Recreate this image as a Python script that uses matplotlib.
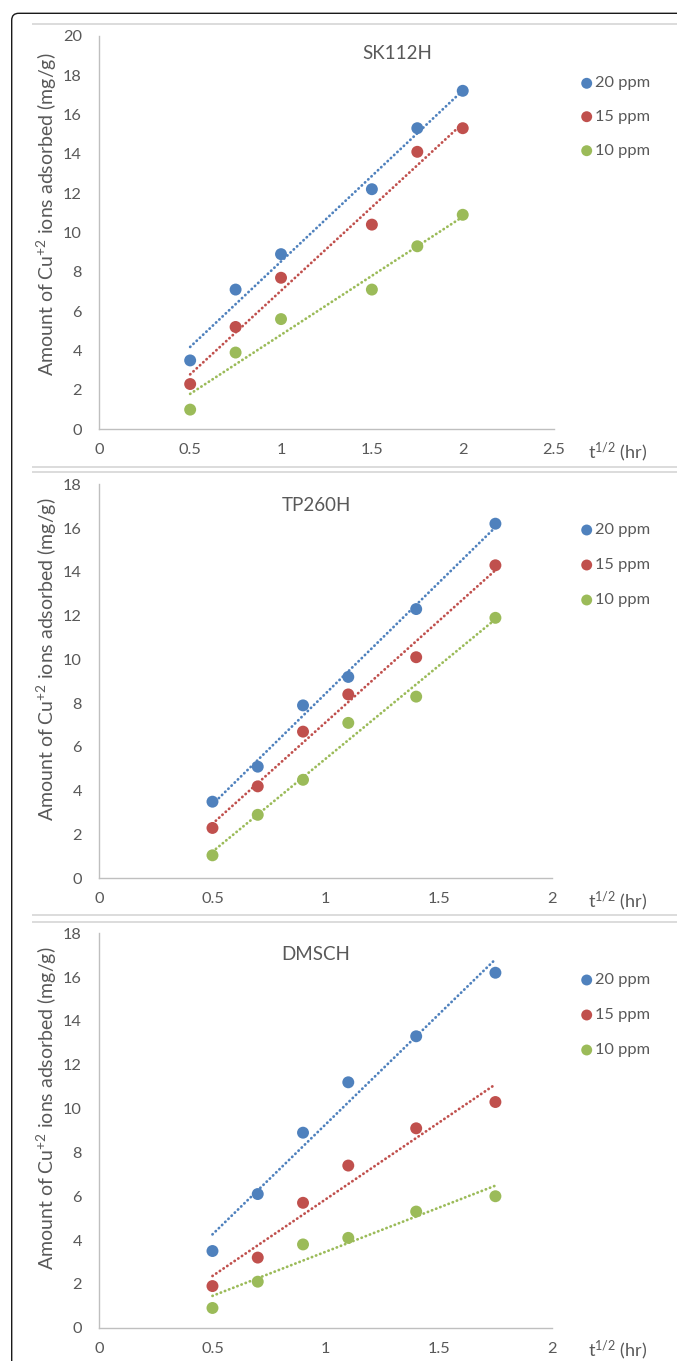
import matplotlib
matplotlib.use("Agg")
import matplotlib.pyplot as plt
import numpy as np
from matplotlib.patches import FancyBboxPatch

plt.rcParams['font.family'] = ['Lato', 'DejaVu Sans']
plt.rcParams['mathtext.fontset'] = 'custom'
plt.rcParams['mathtext.rm'] = 'Lato'
plt.rcParams['mathtext.it'] = 'Lato:italic'

# ---------------- data ----------------
series_labels = ["20 ppm", "15 ppm", "10 ppm"]
series_colors = ["#4F81BD", "#C0504D", "#9BBB59"]

sk_x = [0.5, 0.75, 1.0, 1.5, 1.75, 2.0]
sk_20 = [3.5, 7.1, 8.9, 12.2, 15.3, 17.2]
sk_15 = [2.3, 5.2, 7.7, 10.4, 14.1, 15.3]
sk_10 = [1.0, 3.9, 5.6, 7.1, 9.3, 10.9]

tp_x = [0.5, 0.7, 0.9, 1.1, 1.4, 1.75]
tp_20 = [3.5, 5.1, 7.9, 9.2, 12.3, 16.2]
tp_15 = [2.3, 4.2, 6.7, 8.4, 10.1, 14.3]
tp_10 = [1.05, 2.9, 4.5, 7.1, 8.3, 11.9]

dm_x = [0.5, 0.7, 0.9, 1.1, 1.4, 1.75]
dm_20 = [3.5, 6.1, 8.9, 11.2, 13.3, 16.2]
dm_15 = [1.9, 3.2, 5.7, 7.4, 9.1, 10.3]
dm_10 = [0.9, 2.1, 3.8, 4.1, 5.3, 6.0]

titles = ["SK112H", "TP260H", "DMSCH"]
x_maxes = [2.5, 2.0, 2.0]
y_maxes = [20, 18, 18]

ylabel_text = r"Amount of Cu$^{\mathregular{+2}}$ ions adsorbed (mg/g)"
xlabel_text = r"t$^{\mathregular{1/2}}$ (hr)"

# ---------------- layout (pixels) ----------------
W, H = 677, 1361
fig = plt.figure(figsize=(W / 100, H / 100), dpi=100)

bg = fig.add_axes([0, 0, 1, 1], zorder=0)
bg.set_xlim(0, W)
bg.set_ylim(H, 0)
bg.axis('off')

# outer rounded black frame
bg.add_patch(FancyBboxPatch((11.7, 13.3), 900, 1600,
                            boxstyle="round,pad=0,rounding_size=7",
                            fill=False, ec="#1a1a1a", lw=1.0))
# light grey chart borders
grey = "#d9d9d9"
for yy in [24.3, 467.0, 472.3, 915.0, 921.7]:
    bg.plot([32, W + 5], [yy, yy], color=grey, lw=1.3, solid_capstyle='butt')

panels = [
    dict(box=(99.3, 553.6, 35.7, 429.3), x=sk_x, ys=[sk_20, sk_15, sk_10],
         title_px=(397, 53.7), leg_y=[83.3, 116.7, 150.7], ylab_y=214, xlab_y=452),
    dict(box=(99.3, 552.0, 484.3, 878.3), x=tp_x, ys=[tp_20, tp_15, tp_10],
         title_px=(316.7, 505), leg_y=[530, 565, 600], ylab_y=659, xlab_y=901),
    dict(box=(99.3, 552.0, 933.3, 1327.7), x=dm_x, ys=[dm_20, dm_15, dm_10],
         title_px=(316, 954), leg_y=[980, 1015, 1050], ylab_y=1108, xlab_y=1350),
]

text_col = "#595959"
spine_col = "#bfbfbf"
tick_fs = 11.8

for i, p in enumerate(panels):
    l, r, t, b = p['box']
    ax = fig.add_axes([l / W, 1 - b / H, (r - l) / W, (b - t) / H], zorder=2)
    ax.set_facecolor('none')
    ax.set_xlim(0, x_maxes[i])
    ax.set_ylim(0, y_maxes[i])
    xt = np.arange(0, x_maxes[i] + 0.01, 0.5)
    ax.set_xticks(xt)
    ax.set_xticklabels([f"{v:g}" for v in xt])
    ax.set_yticks(np.arange(0, y_maxes[i] + 0.01, 2))
    for s in ['top', 'right']:
        ax.spines[s].set_visible(False)
    for s in ['left', 'bottom']:
        ax.spines[s].set_color(spine_col)
        ax.spines[s].set_linewidth(1.0)
    ax.tick_params(axis='both', length=0, labelsize=tick_fs, labelcolor=text_col)
    ax.tick_params(axis='y', pad=12.5)
    ax.tick_params(axis='x', pad=10)

    x = np.array(p['x'])
    for ys, c in zip(p['ys'], series_colors):
        ys = np.array(ys)
        slope, inter = np.polyfit(x, ys, 1)
        xx = np.array([x.min(), x.max()])
        ax.plot(xx, slope * xx + inter, color=c, lw=2.0,
                linestyle=(0, (0.1, 1.5)), dash_capstyle='round', zorder=3)
        ax.scatter(x, ys, s=74, color=c, edgecolors='none', zorder=4, clip_on=False)

    # title
    bg.text(p['title_px'][0], p['title_px'][1], titles[i], ha='center', va='center',
            fontsize=13.5, color=text_col)
    # legend
    for yy, lab, c in zip(p['leg_y'], series_labels, series_colors):
        bg.scatter([586.7], [yy], s=62, color=c, edgecolors='none', zorder=3)
        bg.text(595, yy, lab, ha='left', va='center', fontsize=tick_fs, color=text_col)
    # axis labels
    bg.text(46.7, p['ylab_y'], ylabel_text, rotation=90, ha='center', va='center',
            fontsize=14, color=text_col)
    bg.text(588, p['xlab_y'], xlabel_text, ha='left', va='center',
            fontsize=13, color=text_col)

fig.savefig("out.png", dpi=100)
